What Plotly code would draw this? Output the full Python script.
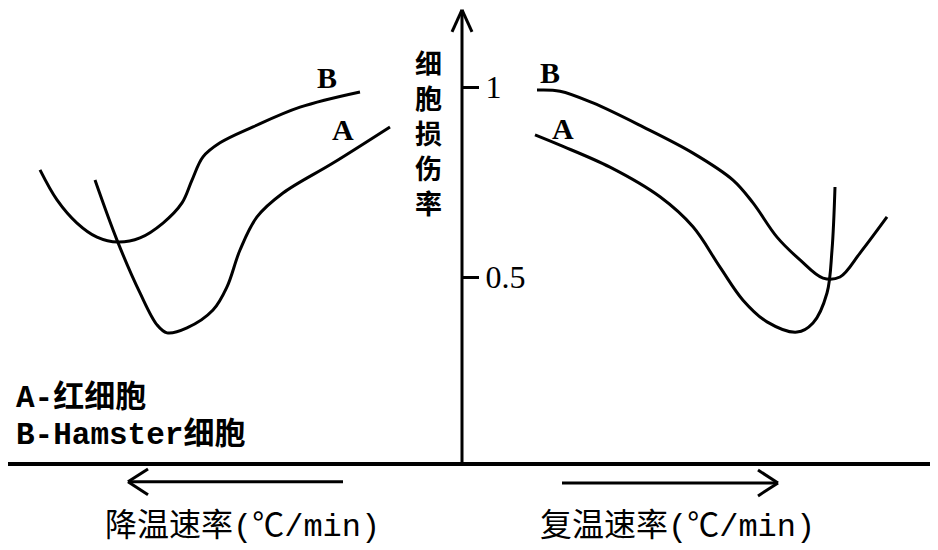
import plotly.graph_objects as go

# 数据 (x<0: 降温速率方向, x>0: 复温速率方向; y: 细胞损伤率)
b_cool_x = [-4.22, -4.05, -3.85, -3.65, -3.44, -3.22, -2.99, -2.80, -2.70, -2.59, -2.42, -2.09, -1.62, -1.02]
b_cool_y = [0.782, 0.703, 0.642, 0.605, 0.592, 0.603, 0.642, 0.695, 0.755, 0.816, 0.853, 0.895, 0.947, 0.987]

a_cool_x = [-3.67, -3.45, -3.22, -3.05, -2.95, -2.75, -2.49, -2.35, -2.22, -2.05, -1.79, -1.29, -0.72]
a_cool_y = [0.755, 0.597, 0.458, 0.374, 0.353, 0.366, 0.413, 0.474, 0.571, 0.658, 0.721, 0.800, 0.895]

b_warm_x = [0.75, 0.98, 1.31, 1.81, 2.31, 2.71, 2.91, 3.15, 3.38, 3.61, 3.78, 3.98, 4.25]
b_warm_y = [0.992, 0.989, 0.958, 0.895, 0.826, 0.755, 0.695, 0.605, 0.545, 0.497, 0.500, 0.563, 0.658]

a_warm_x = [0.73, 0.98, 1.48, 1.98, 2.31, 2.58, 2.81, 3.05, 3.35, 3.51, 3.65, 3.70, 3.73]
a_warm_y = [0.874, 0.847, 0.789, 0.711, 0.632, 0.526, 0.439, 0.382, 0.355, 0.379, 0.458, 0.571, 0.737]

tick_vals = [0.5, 1]
tick_text = ["0.5", "1"]

y_title = "细胞损伤率"
legend_lines = ["A-红细胞", "B-Hamster细胞"]
x_titles = ["降温速率(℃/min)", "复温速率(℃/min)"]

cjk = "Noto Sans CJK SC"
mono = "Liberation Mono, Noto Sans CJK SC"
serif = "Liberation Serif"

fig = go.Figure()
for xs, ys in [(b_cool_x, b_cool_y), (a_cool_x, a_cool_y), (b_warm_x, b_warm_y), (a_warm_x, a_warm_y)]:
    fig.add_trace(go.Scatter(x=xs, y=ys, mode="lines",
                             line=dict(color="black", width=3, shape="spline", smoothing=1.0),
                             showlegend=False, hoverinfo="skip"))

# 坐标轴线和箭头
ax = dict(type="line", xref="x", yref="y", line=dict(color="black", width=3))
shapes = [
    dict(ax, x0=0, x1=0, y0=0.008, y1=1.203),
    dict(ax, x0=-0.10, x1=0, y0=1.145, y1=1.203),
    dict(ax, x0=0.10, x1=0, y0=1.145, y1=1.203),
    dict(ax, x0=-4.56, x1=4.8, y0=0.008, y1=0.008, line=dict(color="black", width=4)),
    # 降温方向箭头
    dict(ax, x0=-1.19, x1=-3.34, y0=-0.039, y1=-0.039),
    dict(ax, x0=-3.34, x1=-3.14, y0=-0.039, y1=-0.005),
    dict(ax, x0=-3.34, x1=-3.14, y0=-0.039, y1=-0.073),
    # 复温方向箭头
    dict(ax, x0=1.00, x1=3.16, y0=-0.042, y1=-0.042),
    dict(ax, x0=3.16, x1=2.96, y0=-0.042, y1=-0.008),
    dict(ax, x0=3.16, x1=2.96, y0=-0.042, y1=-0.076),
]

ann = []
for lbl, x, y in [("B", -1.35, 1.024), ("A", -1.19, 0.887), ("B", 0.88, 1.039), ("A", 1.01, 0.892)]:
    ann.append(dict(x=x, y=y, text=lbl, showarrow=False,
                    font=dict(family=serif, size=30, color="black", weight="bold")))

ann.append(dict(x=-0.34, y=0.88, text="<br>".join(y_title), showarrow=False,
                font=dict(family=cjk, size=27, color="black", weight="bold")))

for i, t in enumerate(legend_lines):
    ann.append(dict(x=-4.48, y=0.182 - i * 0.098, text=t, showarrow=False, xanchor="left",
                    font=dict(family=mono, size=31, color="black", weight="bold")))

for t, x in zip(x_titles, [-2.20, 2.15]):
    ann.append(dict(x=x, y=-0.158, text=t, showarrow=False,
                    font=dict(family=mono, size=32, color="black")))

# the page body has an 8px margin, so the figure is 8px smaller and ranges start at page px 8
fig.update_layout(
    width=930, height=542,
    margin=dict(l=0, r=0, t=0, b=0),
    paper_bgcolor="white", plot_bgcolor="white",
    shapes=shapes, annotations=ann,
    xaxis=dict(range=[-4.54, 4.76], visible=False, fixedrange=True),
    yaxis=dict(range=[-0.2184, 1.2079], anchor="free", position=454 / 930, side="right",
               showgrid=False, zeroline=False, showline=False,
               tickmode="array", tickvals=tick_vals, ticktext=tick_text,
               ticks="outside", ticklen=16, tickwidth=3, tickcolor="black",
               tickfont=dict(family=serif, size=32, color="black")),
)

fig.write_html("out.html")
